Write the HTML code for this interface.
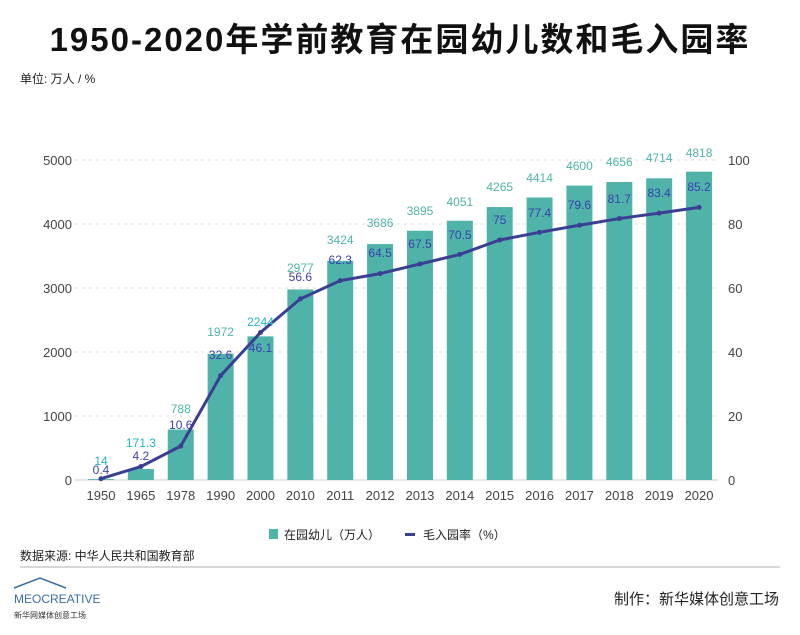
<!DOCTYPE html>
<html><head><meta charset="utf-8"><style>
body{margin:0;background:#fff;width:800px;height:630px;overflow:hidden;font-family:"Liberation Sans","Noto Sans CJK SC",sans-serif}
</style></head><body>
<svg width="800" height="630" xmlns="http://www.w3.org/2000/svg" font-family="Liberation Sans, Noto Sans CJK SC, sans-serif">
<text x="400" y="51" text-anchor="middle" font-size="33" font-weight="bold" letter-spacing="2" fill="#111">1950-2020年学前教育在园幼儿数和毛入园率</text>
<text x="20" y="83" font-size="12" fill="#222">单位: 万人 / %</text>
<g stroke="#ddd" stroke-dasharray="3,4" stroke-width="1">
<line x1="75" x2="718" y1="160" y2="160"/><line x1="75" x2="718" y1="224" y2="224"/><line x1="75" x2="718" y1="288" y2="288"/><line x1="75" x2="718" y1="352" y2="352"/><line x1="75" x2="718" y1="416" y2="416"/>
</g>
<line x1="75" x2="718" y1="480" y2="480" stroke="#ccc"/>
<g font-size="13" fill="#444" text-anchor="end">
<text x="72" y="165">5000</text><text x="72" y="229">4000</text><text x="72" y="293">3000</text><text x="72" y="357">2000</text><text x="72" y="421">1000</text><text x="72" y="485">0</text>
</g>
<g font-size="13" fill="#444">
<text x="728" y="165">100</text><text x="728" y="229">80</text><text x="728" y="293">60</text><text x="728" y="357">40</text><text x="728" y="421">20</text><text x="728" y="485">0</text>
</g>
<g id="bars" fill="#4fb3a9"></g>
<g id="xl" font-size="13" fill="#444" text-anchor="middle"></g>
<polyline id="ln" fill="none" stroke="#3a3f94" stroke-width="3"/>
<g id="dots" fill="#3a3f94"></g>
<g id="bl" font-size="12" fill="#4fb3a9" text-anchor="middle"></g>
<g id="rl" font-size="12" fill="#3a3fb0" text-anchor="middle"></g>
<rect x="269" y="529" width="9" height="10" fill="#4fb3a9"/>
<text x="284" y="539" font-size="12" fill="#222">在园幼儿（万人）</text>
<rect x="405" y="533" width="10" height="3" fill="#3a3f94"/>
<text x="423" y="539" font-size="12" fill="#222">毛入园率（%）</text>
<text x="20" y="560" font-size="12" fill="#222">数据来源: 中华人民共和国教育部</text>
<line x1="20" x2="780" y1="567" y2="567" stroke="#ccc" stroke-width="1.5"/>
<path d="M14 588 L40 578 L66 588" fill="none" stroke="#3a6ea8" stroke-width="1.5"/>
<text x="14" y="603" font-size="12" fill="#3a6ea8">MEOCREATIVE</text>
<text x="14" y="618" font-size="8" fill="#333">新华网媒体创意工场</text>
<text x="779" y="604" text-anchor="end" font-size="15" fill="#222">制作：新华媒体创意工场</text>
</svg>
<script>
var years=[1950,1965,1978,1990,2000,2010,2011,2012,2013,2014,2015,2016,2017,2018,2019,2020];
var bars=[14,171.3,788,1972,2244,2977,3424,3686,3895,4051,4265,4414,4600,4656,4714,4818];
var rates=[0.4,4.2,10.6,32.6,46.1,56.6,62.3,64.5,67.5,70.5,75,77.4,79.6,81.7,83.4,85.2];
var rly=[470,456,425,355,348,277,260,253,244,235,220,213,205,199,193,187];
var bly=[461,443,409,332,322,268,240,223,211,202,187,178,166,162,158,153];
var ns="http://www.w3.org/2000/svg",pts=[];
function el(p,t,a,txt){var e=document.createElementNS(ns,t);for(var k in a)e.setAttribute(k,a[k]);if(txt!=null)e.textContent=txt;document.getElementById(p).appendChild(e);}
for(var i=0;i<16;i++){var x=101+i*39.87;var h=bars[i]*0.064;
el("bars","rect",{x:x-13,y:480-h,width:26,height:h});
el("xl","text",{x:x,y:500},years[i]);
var y=480-rates[i]*3.2;pts.push(x+","+y);
el("dots","circle",{cx:x,cy:y,r:2.5});
el("bl","text",{x:x,y:bly[i]+4,fill:i<5&&i!=2&&i!=3?"#20b5c8":"#4fb3a9"},bars[i]);
el("rl","text",{x:x,y:rly[i]+4},rates[i]);}
document.getElementById("ln").setAttribute("points",pts.join(" "));
</script>
</body></html>
